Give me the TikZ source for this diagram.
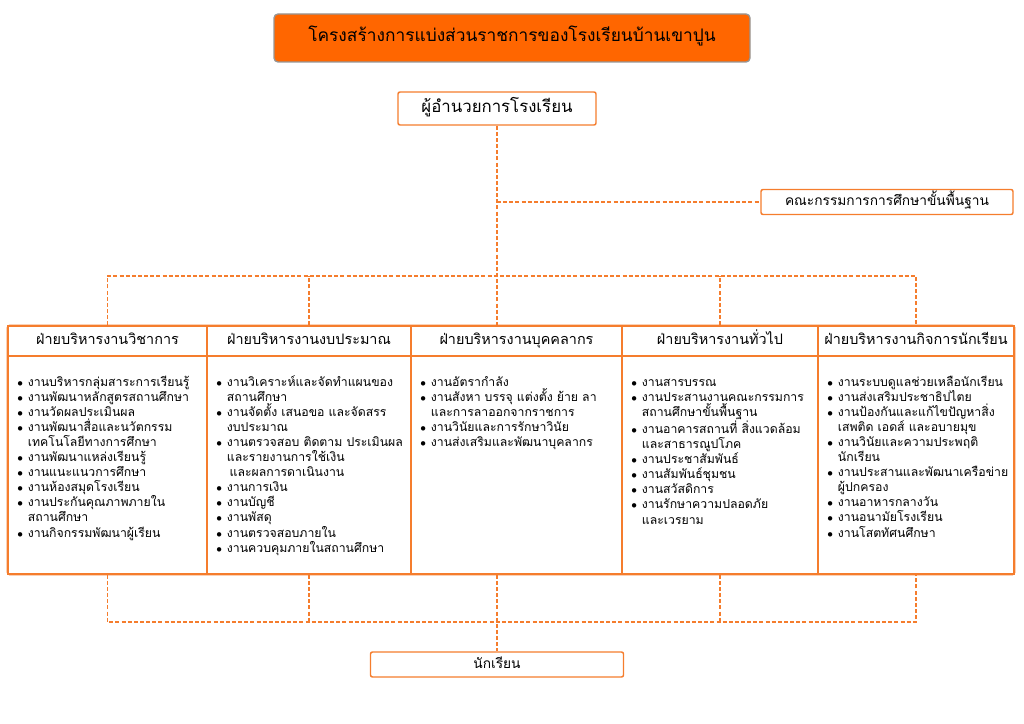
\documentclass[tikz,border=0pt]{standalone}
\usepackage{fontspec}
\setmainfont[Script=Thai]{Loma}
\definecolor{lineor}{RGB}{245,125,45}
\definecolor{titleor}{RGB}{255,102,0}
\definecolor{titlegray}{RGB}{150,150,150}
\newcommand\bulletmark{\hbox to 8pt{{\footnotesize$\bullet$}\hss}}
\newcommand\itemline[1]{\par\noindent\bulletmark#1\par}
\newcommand\contline[1]{\par\noindent\hspace*{8pt}#1\par}
\tikzset{
  box/.style={draw=lineor, line width=1.1pt, rounded corners=1.5pt, fill=white, inner sep=0pt, align=center, text height=8pt, text depth=2.5pt},
  cell/.style={draw=lineor, line width=1.1pt, inner sep=0pt},
  dl/.style={draw=lineor, line width=1pt, dash pattern=on 3pt off 1.6pt},
  itemtext/.style={anchor=north west, inner sep=0pt, text width=#1, align=left, font=\fontsize{9.2}{11.3}\selectfont},
  headtext/.style={font=\fontsize{10.8}{12}\selectfont, text height=8pt, text depth=2.5pt}
}
\begin{document}
\begin{tikzpicture}[x=0.75pt,y=-0.75pt]
\useasboundingbox (0,0) rectangle (1024,724);
% title
\node[draw=titlegray, fill=titleor, line width=1pt, rounded corners=3pt, minimum width=357pt, minimum height=36pt, text height=9pt, text depth=3pt, font=\fontsize{13}{14}\selectfont] (title) at (512,38) {โครงสร้างการแบ่งส่วนราชการของโรงเรียนบ้านเขาปูน};
% director and committee
\node[box, minimum width=148.5pt, minimum height=24.75pt, font=\fontsize{12.6}{14}\selectfont] (dir) at (497,108.5) {ผู้อำนวยการโรงเรียน};
\node[box, minimum width=189pt, minimum height=18.75pt, font=\fontsize{10.3}{12}\selectfont] (com) at (887,202) {คณะกรรมการการศึกษาขั้นพื้นฐาน};
% header cells
\node[cell, minimum width=149.25pt, minimum height=22.5pt, headtext] (h1) at (107.5,341) {ฝ่ายบริหารงานวิชาการ};
\node[cell, minimum width=153pt, minimum height=22.5pt, headtext] (h2) at (309,341) {ฝ่ายบริหารงานงบประมาณ};
\node[cell, minimum width=158.25pt, minimum height=22.5pt, headtext] (h3) at (516.5,341) {ฝ่ายบริหารงานบุคคลากร};
\node[cell, minimum width=147pt, minimum height=22.5pt, headtext] (h4) at (720,341) {ฝ่ายบริหารงานทั่วไป};
\node[cell, minimum width=147pt, minimum height=22.5pt, headtext] (h5) at (916,341) {ฝ่ายบริหารงานกิจการนักเรียน};
% body cells
\node[cell, minimum width=149.25pt, minimum height=163.5pt] (b1) at (107.5,465) {};
\node[cell, minimum width=153pt, minimum height=163.5pt] (b2) at (309,465) {};
\node[cell, minimum width=158.25pt, minimum height=163.5pt] (b3) at (516.5,465) {};
\node[cell, minimum width=147pt, minimum height=163.5pt] (b4) at (720,465) {};
\node[cell, minimum width=147pt, minimum height=163.5pt] (b5) at (916,465) {};
\draw[draw=lineor, line width=1.1pt, rounded corners=2pt] (h1.north west) rectangle (b5.south east);
% items
\node[itemtext=142pt] (t1) at (17,371) {%
\itemline{งานบริหารกลุ่มสาระการเรียนรู้}
\itemline{งานพัฒนาหลักสูตรสถานศึกษา}
\itemline{งานวัดผลประเมินผล}
\itemline{งานพัฒนาสื่อและนวัตกรรม}
\contline{เทคโนโลยีทางการศึกษา}
\itemline{งานพัฒนาแหล่งเรียนรู้}
\itemline{งานแนะแนวการศึกษา}
\itemline{งานห้องสมุดโรงเรียน}
\itemline{งานประกันคุณภาพภายใน}
\contline{สถานศึกษา}
\itemline{งานกิจกรรมพัฒนาผู้เรียน}};
\node[itemtext=147pt] (t2) at (216,371) {%
\itemline{งานวิเคราะห์และจัดทำแผนของ}
\contline{สถานศึกษา}
\itemline{งานจัดตั้ง เสนอขอ และจัดสรร}
\contline{งบประมาณ}
\itemline{งานตรวจสอบ ติดตาม ประเมินผล}
\contline{และรายงานการใช้เงิน}
\contline{\hspace*{2pt}และผลการดาเนินงาน}
\itemline{งานการเงิน}
\itemline{งานบัญชี}
\itemline{งานพัสดุ}
\itemline{งานตรวจสอบภายใน}
\itemline{งานควบคุมภายในสถานศึกษา}};
\node[itemtext=152pt] (t3) at (420,371) {%
\itemline{งานอัตรากำลัง}
\itemline{งานสังหา บรรจุ แต่งตั้ง ย้าย ลา}
\contline{และการลาออกจากราชการ}
\itemline{งานวินัยและการรักษาวินัย}
\itemline{งานส่งเสริมและพัฒนาบุคลากร}};
\node[itemtext=142pt] (t4) at (631,371) {%
\itemline{งานสารบรรณ}
\itemline{งานประสานงานคณะกรรมการ}
\contline{สถานศึกษาขั้นพื้นฐาน}
\itemline{งานอาคารสถานที่ สิ่งแวดล้อม}
\contline{และสาธารณูปโภค}
\itemline{งานประชาสัมพันธ์}
\itemline{งานสัมพันธ์ชุมชน}
\itemline{งานสวัสดิการ}
\itemline{งานรักษาความปลอดภัย}
\contline{และเวรยาม}};
\node[itemtext=142pt] (t5) at (827,371) {%
\itemline{งานระบบดูแลช่วยเหลือนักเรียน}
\itemline{งานส่งเสริมประชาธิปไตย}
\itemline{งานป้องกันและแก้ไขปัญหาสิ่ง}
\contline{เสพติด เอดส์ และอบายมุข}
\itemline{งานวินัยและความประพฤติ}
\contline{นักเรียน}
\itemline{งานประสานและพัฒนาเครือข่าย}
\contline{ผู้ปกครอง}
\itemline{งานอาหารกลางวัน}
\itemline{งานอนามัยโรงเรียน}
\itemline{งานโสตทัศนศึกษา}};
% students
\node[box, minimum width=189.75pt, minimum height=18.75pt, font=\fontsize{10.3}{12}\selectfont] (stu) at (497,664.5) {นักเรียน};
% connectors
\coordinate (top) at (497,276);
\coordinate (bot) at (497,622);
\draw[dl] (dir.south) -- (dir.south |- h3.north);
\draw[dl] (dir.south |- com.west) -- (com.west);
\draw[dl] (h1.north) |- (top) -| (h5.north);
\draw[dl] (h2.north) -- (h2.north |- top);
\draw[dl] (h4.north) -- (h4.north |- top);
\draw[dl] (b1.south) |- (bot) -| (b5.south);
\draw[dl] (b2.south) -- (b2.south |- bot);
\draw[dl] (b4.south) -- (b4.south |- bot);
\draw[dl] (stu.north |- b3.south) -- (stu.north);
\end{tikzpicture}
\end{document}
